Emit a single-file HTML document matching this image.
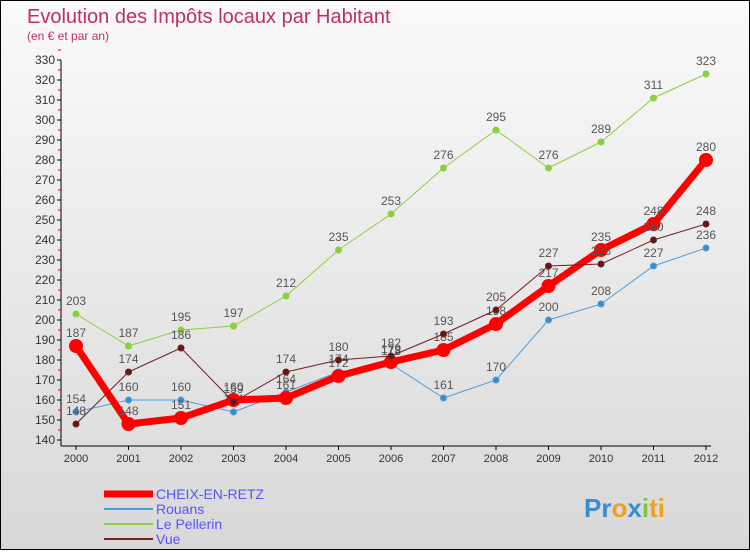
<!DOCTYPE html>
<html><head><meta charset="utf-8"><style>
body{margin:0;}
#c{width:748px;height:548px;border:1px solid #000;background:linear-gradient(#fafafa,#d8d8d8);position:relative;font-family:"Liberation Sans",sans-serif;}
</style></head><body>
<div id="c">
<svg id="s" width="748" height="548">
<text x="26" y="22" font-size="20" fill="#c0305a">Evolution des Impôts locaux par Habitant</text>
<text x="26" y="39" font-size="12" fill="#c0305a">(en € et par an)</text>
</svg>
</div>
<script>
const years=["2000","2001","2002","2003","2004","2005","2006","2007","2008","2009","2010","2011","2012"];
const cheix=[187,148,151,160,161,172,179,185,198,217,235,248,280];
const rouans=[154,160,160,154,164,174,178,161,170,200,208,227,236];
const pellerin=[203,187,195,197,212,235,253,276,295,276,289,311,323];
const vue=[148,174,186,159,174,180,182,193,205,227,228,240,248];
const yTicks=[140,150,160,170,180,190,200,210,220,230,240,250,260,270,280,290,300,310,320,330];
const NS="http://www.w3.org/2000/svg",s=document.getElementById('s');
const X=i=>75+i*52.5, Y=v=>439-(v-140)*2;
function el(t,a,p){const e=document.createElementNS(NS,t);for(const k in a)e.setAttribute(k,a[k]);(p||s).appendChild(e);return e;}
const ax=el('line',{x1:60,y1:Y(330),x2:60,y2:Y(140)+6,stroke:'#000'});

const xa=el('line',{x1:60,y1:Y(140)+6,x2:710,y2:Y(140)+6,stroke:'#000'});

yTicks.forEach(v=>{
 el('line',{x1:56,y1:Y(v),x2:60,y2:Y(v),stroke:'#000'});
 el('line',{x1:57,y1:Y(v+5),x2:60,y2:Y(v+5),stroke:'#e00'});
 const t=el('text',{x:54,y:Y(v)+4,'font-size':12,fill:'#333','text-anchor':'end'});t.textContent=v;
 
});
years.forEach((y,i)=>{
 el('line',{x1:X(i),y1:Y(140)+6,x2:X(i),y2:Y(140)+10,stroke:'#000'});
 const t=el('text',{x:X(i),y:Y(140)+22,'font-size':11,fill:'#333','text-anchor':'middle'});t.textContent=y;
 
});
function series(d,col,w,r,name,dot){
 const g=el('g',{});
 el('polyline',{points:d.map((v,i)=>X(i)+','+Y(v)).join(' '),fill:'none',stroke:col,'stroke-width':w,'stroke-linejoin':'round'},g);
 d.forEach((v,i)=>{
  const c=el('circle',{cx:X(i),cy:Y(v),r:r,fill:dot,stroke:col,'stroke-width':w>3?0:1},g);
  
  const t=el('text',{x:X(i),y:Y(v)-9,'font-size':12,fill:'#555','text-anchor':'middle'},g);t.textContent=v;
 });
}
series(pellerin,'#88d040',1,3,'series-le-pellerin','#88d040');
series(rouans,'#4f9ed8',1,3,'series-rouans','#3a8cd0');
series(cheix,'#f00',7,7,'series-cheix-en-retz','#f00');
series(vue,'#702020',1,3,'series-vue','#601818');
const leg=[['CHEIX-EN-RETZ','#f00',7],['Rouans','#4f9ed8',2],['Le Pellerin','#88d040',2],['Vue','#702020',2]];
leg.forEach((l,i)=>{
 const y=493+i*15;
 const g=el('g',{});
 el('line',{x1:103,y1:y,x2:152,y2:y,stroke:l[1],'stroke-width':l[2]},g);
 const t=el('text',{x:155,y:y+5,'font-size':14,fill:'#55f'},g);t.textContent=l[0];
});
const p=el('text',{x:583,y:516,'font-size':26,'font-weight':'bold',fill:'#f0a020'});

p.innerHTML='<tspan fill="#3a8cd0">Pr</tspan><tspan fill="#f0a020">o</tspan><tspan fill="#3a8cd0">x</tspan><tspan fill="#88c040">i</tspan><tspan fill="#f0a020">ti</tspan>';
</script>
</body></html>
